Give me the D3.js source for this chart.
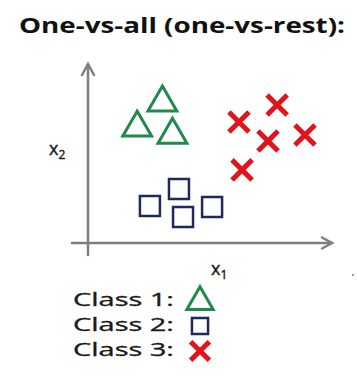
<!DOCTYPE html>
<html>
<head>
<meta charset="utf-8">
<script src="https://cdn.jsdelivr.net/npm/d3@7"></script>
<style>
  html, body { margin: 0; padding: 0; background: #fff; }
  svg { display: block; }
</style>
</head>
<body>
<div id="chart"></div>
<script>
// data (arbitrary units, 0..10 on each axis)
const class1X = [3.1, 2.05, 3.52];
const class1Y = [7.8, 6.4, 6.0];
const class2X = [2.58, 3.79, 3.96, 5.17];
const class2Y = [2.06, 3.0, 1.44, 2.0];
const class3X = [6.29, 7.88, 7.5, 9.04, 6.42];
const class3Y = [6.72, 7.67, 5.67, 6.0, 4.06];
const legendLabels = ["Class 1:", "Class 2:", "Class 3:"];

const width = 357, height = 385;
const axisColor = "#7f7f7f";
const colors = ["#1f8a4c", "#1f2a5a", "#e3121b"];

const svg = d3.select("#chart")
    .append("svg")
    .attr("width", width)
    .attr("height", height);

// title
svg.append("text")
    .attr("x", 19)
    .attr("y", 33)
    .attr("textLength", 326)
    .attr("lengthAdjust", "spacingAndGlyphs")
    .style("font-family", "'Open Sans', sans-serif")
    .style("font-weight", "bold")
    .style("font-size", "21px")
    .attr("fill", "#111")
    .text("One-vs-all (one-vs-rest):");

// scales
const x = d3.scaleLinear().domain([0, 10]).range([88, 328]);
const y = d3.scaleLinear().domain([0, 10]).range([243, 63]);

// axes (plain arrows, no ticks)
const axes = svg.append("g")
    .attr("stroke", axisColor)
    .attr("stroke-width", 2.5)
    .attr("fill", "none")
    .attr("stroke-linecap", "round");

axes.append("line")
    .attr("x1", x(0)).attr("y1", y(0) + 12)
    .attr("x2", x(0)).attr("y2", y(10) + 1);
axes.append("path")
    .attr("d", `M${x(0) - 6},${y(10) + 12} L${x(0)},${y(10) + 1} L${x(0) + 6},${y(10) + 12}`);

axes.append("line")
    .attr("x1", x(0) - 16).attr("y1", y(0))
    .attr("x2", x(10) + 4).attr("y2", y(0));
axes.append("path")
    .attr("d", `M${x(10) - 6},${y(0) - 5.5} L${x(10) + 4},${y(0)} L${x(10) - 6},${y(0) + 5.5}`);

// axis labels
function subLabel(px, py, main, sub) {
    const t = svg.append("text")
        .attr("x", px).attr("y", py)
        .style("font-family", "'Open Sans', sans-serif")
        .style("font-size", "18px")
        .attr("fill", "#1a1a1a")
        .attr("stroke", "#1a1a1a")
        .attr("stroke-width", 0.4);
    t.append("tspan").text(main);
    t.append("tspan").attr("dy", 4).style("font-size", "12px").text(sub);
}
subLabel(49, 155, "x", "2");
subLabel(211, 275, "x", "1");

// small stray dot at the right
svg.append("circle")
    .attr("cx", 353).attr("cy", 275).attr("r", 1.1)
    .attr("fill", "#888");

// markers
const triangle = d3.symbol().type(d3.symbolTriangle).size(360);
const square = d3.symbol().type(d3.symbolSquare).size(400);
const cross = d3.symbol().type(d3.symbolX).size(265);

const series = [
    {xs: class1X, ys: class1Y, sym: triangle, color: colors[0], sw: 3},
    {xs: class2X, ys: class2Y, sym: square, color: colors[1], sw: 2.5},
    {xs: class3X, ys: class3Y, sym: cross, color: colors[2], sw: 5}
];

series.forEach(s => {
    svg.append("g").selectAll("path")
        .data(s.xs.map((v, i) => ({x: v, y: s.ys[i]})))
        .enter()
        .append("path")
        .attr("transform", d => `translate(${x(d.x)},${y(d.y)})`)
        .attr("d", s.sym())
        .attr("fill", "none")
        .attr("stroke", s.color)
        .attr("stroke-width", s.sw)
        .attr("stroke-linejoin", "miter");
});

// legend
const legend = svg.append("g");
legendLabels.forEach((label, i) => {
    const by = 306 + i * 25;
    legend.append("text")
        .attr("x", 73).attr("y", by)
        .attr("textLength", 101)
        .attr("lengthAdjust", "spacingAndGlyphs")
        .style("font-family", "'Open Sans', sans-serif")
        .style("font-size", "19px")
        .attr("fill", "#1a1a1a")
        .attr("stroke", "#1a1a1a")
        .attr("stroke-width", 0.35)
        .text(label);
    const s = series[i];
    const sz = [300, 260, 230][i];
    legend.append("path")
        .attr("transform", `translate(200,${by - 5 + (i === 0 ? 1 : 0)})`)
        .attr("d", d3.symbol().type([d3.symbolTriangle, d3.symbolSquare, d3.symbolX][i]).size(sz)())
        .attr("fill", "none")
        .attr("stroke", s.color)
        .attr("stroke-width", s.sw);
});
</script>
</body>
</html>
